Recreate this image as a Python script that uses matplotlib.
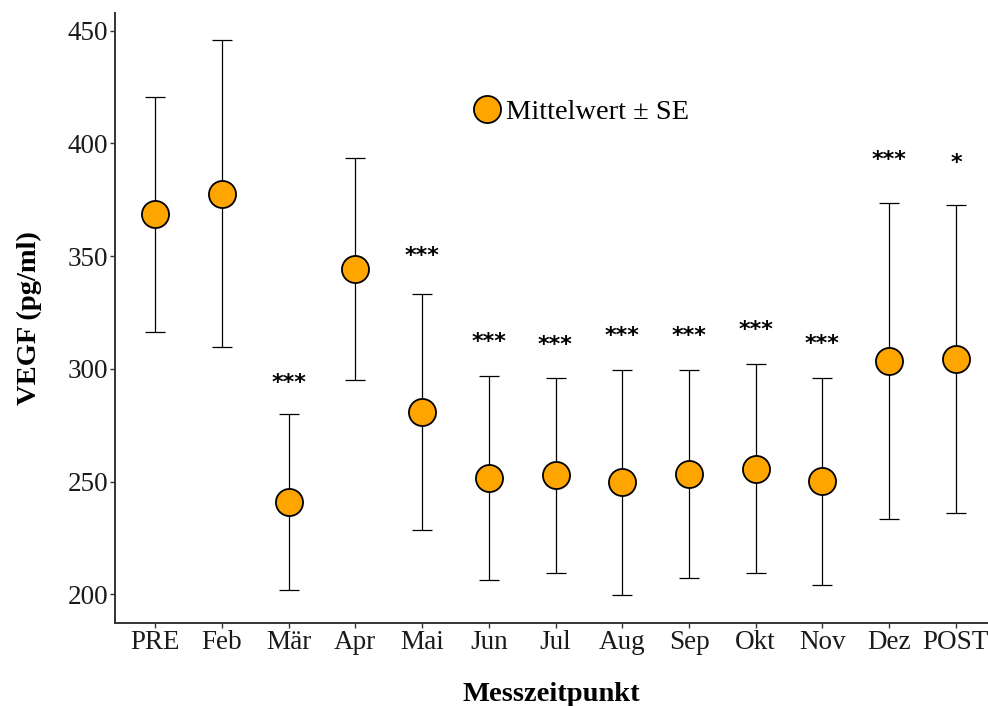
import matplotlib
matplotlib.use("Agg")
import matplotlib.pyplot as plt
from matplotlib.lines import Line2D
import numpy as np

# Messzeitpunkte, Mittelwerte und Standardfehler von VEGF (pg/ml)
timepoints = ["PRE", "Feb", "Mär", "Apr", "Mai", "Jun", "Jul", "Aug",
              "Sep", "Okt", "Nov", "Dez", "POST"]
mean_vegf = [368.6, 377.7, 240.8, 344.3, 280.9, 251.7, 252.8, 249.7,
             253.4, 255.7, 250.1, 303.5, 304.4]
se_vegf = [52.2, 68.0, 39.0, 49.2, 52.5, 45.3, 43.2, 50.0,
           46.2, 46.3, 46.0, 70.3, 68.2]
signif = ["", "", "***", "", "***", "***", "***", "***",
          "***", "***", "***", "***", "*"]
y_ticks = [200, 250, 300, 350, 400, 450]

serif = ["Liberation Serif", "DejaVu Serif"]
fill = "#FFA500"
dark = "#333333"

fig = plt.figure(figsize=(9.88, 7.06), dpi=100)
ax = fig.add_axes([115 / 988, 83.3 / 706, 1 - 115 / 988, (622.7 - 12.7) / 706])

x = np.arange(len(timepoints))
mean = np.array(mean_vegf)
se = np.array(se_vegf)

ax.errorbar(x, mean, yerr=se, fmt="none", ecolor="black", elinewidth=0.9,
            capsize=7, capthick=0.9, zorder=2)
ax.plot(x, mean, ls="none", marker="o", markersize=19.5, markerfacecolor=fill,
        markeredgecolor="black", markeredgewidth=1.3, zorder=3)

for xi, top, lab in zip(x, mean + se, signif):
    if lab:
        ax.text(xi, top * 1.05, lab, ha="center", va="center", fontsize=16,
                fontweight="bold", family="DejaVu Sans", color="black")

ax.set_xlim(-0.6, 12.48)
ax.set_ylim(187.4, 458.0)
ax.set_xticks(x)
ax.set_xticklabels(timepoints)
ax.set_yticks(y_ticks)
ax.set_yticklabels([str(v) for v in y_ticks])

for side in ("top", "right"):
    ax.spines[side].set_visible(False)
for side in ("left", "bottom"):
    ax.spines[side].set_color(dark)
    ax.spines[side].set_linewidth(1.4)

ax.tick_params(axis="both", direction="out", length=3.5, width=1.0, color=dark,
               labelsize=19.5, labelcolor="#1a1a1a", pad=2.0)
ax.tick_params(axis="y", pad=1.5)
for lab in ax.get_xticklabels() + ax.get_yticklabels():
    lab.set_family(serif)

ax.set_xlabel("Messzeitpunkt", fontsize=20.5, fontweight="bold", family=serif,
              labelpad=19)
ax.set_ylabel("VEGF (pg/ml)", fontsize=20.5, fontweight="bold", family=serif,
              labelpad=18)

handle = Line2D([], [], ls="none", marker="o", markersize=19.5,
                markerfacecolor=fill, markeredgecolor="black",
                markeredgewidth=1.3)
fig.legend(handles=[handle], labels=["Mittelwert ± SE"], loc="center left",
           bbox_to_anchor=(476 / 988, 1 - 112 / 706), frameon=False,
           handlelength=0.8, handletextpad=0.25, borderpad=0, borderaxespad=0,
           prop={"family": serif, "size": 20.5})

fig.savefig("out.png", dpi=100)
